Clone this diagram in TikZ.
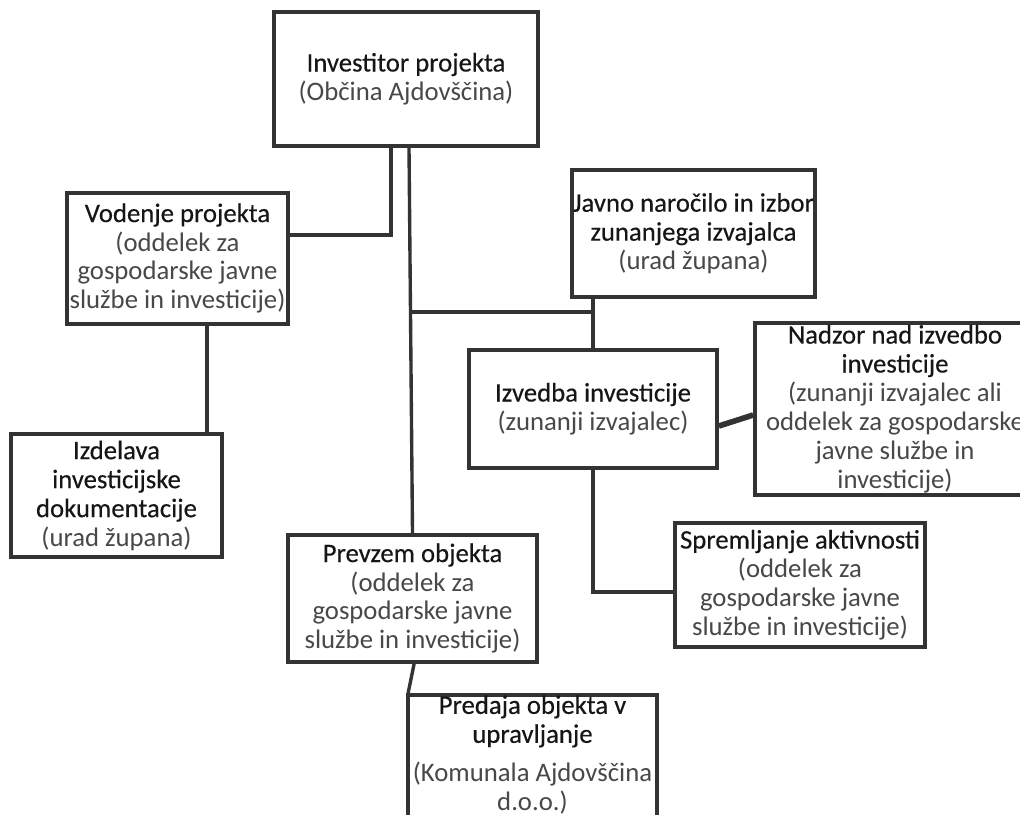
\documentclass[tikz,border=0pt]{standalone}
\usepackage{fontspec}
\setmainfont{Carlito}
\usetikzlibrary{positioning}
\definecolor{LineGray}{RGB}{51,51,51}
\definecolor{TitleInk}{RGB}{22,22,22}
\definecolor{NoteInk}{RGB}{72,72,72}
\newcommand{\boxtitle}[1]{{\addfontfeature{FakeBold=0.35}\color{TitleInk}#1}}

\begin{document}
\begin{tikzpicture}[x=0.025cm, y=-0.025cm,
    box/.style={draw=LineGray, line width=2.6pt, fill=white, align=center, inner sep=0pt,
                font=\fontsize{19}{20.6}\selectfont, text=NoteInk},
    boxtext/.style={align=center, inner sep=0pt, font=\fontsize{19}{20.6}\selectfont, text=NoteInk},
    link/.style={draw=LineGray, line width=2.4pt}
]
    \useasboundingbox (0,0) rectangle (1020,815);
    \clip (0,0) rectangle (1020,815);
    \fill[white] (0,0) rectangle (1020,815);

    \node[box, minimum width=6.6cm, minimum height=3.35cm] (inv) at (406,79)
        {\boxtitle{Investitor projekta}\\(Občina Ajdovščina)};
    \node[box, minimum width=5.525cm, minimum height=3.275cm] (vod) at (177.5,258.5)
        {\boxtitle{Vodenje projekta}\\(oddelek za\\gospodarske javne\\službe in investicije)};
    \node[box, minimum width=5.275cm, minimum height=3.075cm] (izd) at (116.5,495.5)
        {\boxtitle{Izdelava}\\\boxtitle{investicijske}\\\boxtitle{dokumentacije}\\(urad župana)};
    \node[box, minimum width=6.075cm, minimum height=3.175cm] (jav) at (693.5,233.5)
        {\boxtitle{Javno naročilo in izbor}\\\boxtitle{zunanjega izvajalca}\\(urad župana)};
    \node[box, minimum width=6.2cm, minimum height=2.95cm] (izv) at (593,409)
        {\boxtitle{Izvedba investicije}\\(zunanji izvajalec)};
    \node[box, minimum width=7cm, minimum height=4.3cm] (nad) at (895,409)
        {\boxtitle{Nadzor nad izvedbo}\\\boxtitle{investicije}\\(zunanji izvajalec ali\\
         oddelek za gospodarske\\javne službe in\\investicije)};
    \node[box, minimum width=6.25cm, minimum height=3.1cm] (spr) at (800,585)
        {\boxtitle{Spremljanje aktivnosti}\\(oddelek za\\gospodarske javne\\službe in investicije)};
    \node[box, minimum width=6.225cm, minimum height=3.175cm] (prv) at (412.5,598.5)
        {\boxtitle{Prevzem objekta}\\(oddelek za\\gospodarske javne\\službe in investicije)};
    \node[box, minimum width=6.225cm, minimum height=4cm, anchor=north] (pre) at (532.5,693) {};
    \node[boxtext, anchor=north] (pretxt) at (532.5,695)
        {\boxtitle{Predaja objekta v}\\\boxtitle{upravljanje}\\[7pt](Komunala Ajdovščina\\d.o.o.)};

    \coordinate (jct) at (410,312);
    \draw[link] ([xshift=-0.375cm]inv.south) |- ([yshift=0.5875cm]vod.east);
    \draw[link] ([xshift=0.075cm]inv.south) -- (prv.north);
    \draw[link] (jct) -- (jct -| izv.north);
    \draw[link] (jav.south -| izv.north) -- (izv.north);
    \draw[link] ([xshift=0.7375cm]vod.south) -- ([xshift=0.7375cm]vod.south |- izd.north);
    \draw[link, line width=4pt] ([yshift=-0.425cm]izv.east) -- ([yshift=-0.15cm]nad.west);
    \draw[link] (izv.south) |- ([yshift=-0.175cm]spr.west);
    \draw[link] ([xshift=0.04cm]prv.south) -- ([xshift=0.05cm]pre.north west);
\end{tikzpicture}
\end{document}
